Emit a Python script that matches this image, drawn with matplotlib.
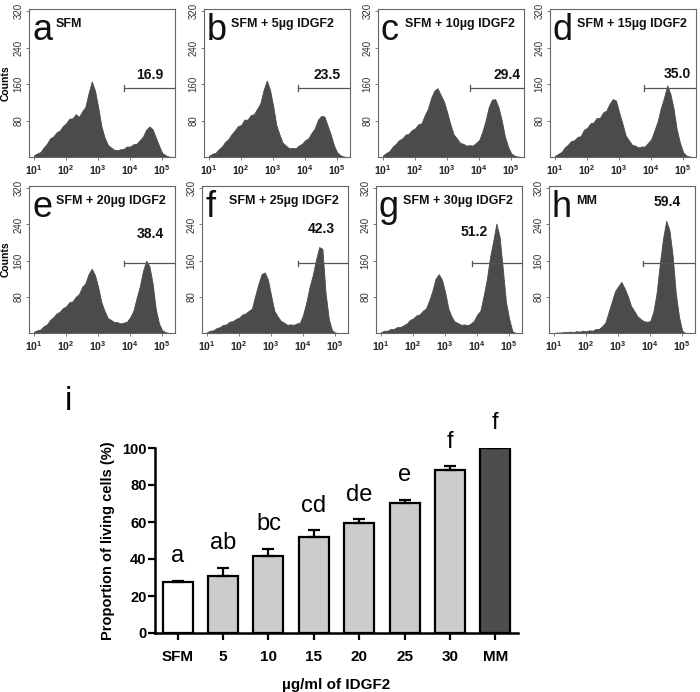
import matplotlib
matplotlib.use("Agg")
import matplotlib.pyplot as plt

plt.rcParams['font.family'] = ['Liberation Sans', 'DejaVu Sans']
plt.rcParams['mathtext.fontset'] = 'custom'
plt.rcParams['mathtext.rm'] = 'Liberation Sans'
plt.rcParams['mathtext.bf'] = 'Liberation Sans:bold'

# ---------------- data ----------------
# fluorescence bins (log10 of intensity)
bins_log = [1.0, 1.1, 1.2, 1.3, 1.4, 1.5, 1.6, 1.7, 1.8, 1.9,
            2.0, 2.1, 2.2, 2.3, 2.4, 2.5, 2.6, 2.7, 2.8, 2.9,
            3.0, 3.1, 3.2, 3.3, 3.4, 3.5, 3.6, 3.7, 3.8, 3.9,
            4.0, 4.1, 4.2, 4.3, 4.4, 4.5, 4.6, 4.7, 4.8, 4.9,
            5.0, 5.1, 5.2, 5.3]

counts_a = [4, 8, 11, 21, 29, 41, 45, 54, 58, 68, 74, 84, 85, 94, 88, 100, 110, 140, 166, 146,
            110, 68, 43, 27, 21, 16, 15, 17, 18, 23, 23, 28, 29, 37, 45, 60, 67, 61, 43, 25,
            9, 4, 1, 0]
counts_b = [3, 7, 9, 17, 23, 33, 39, 50, 58, 68, 70, 82, 82, 92, 94, 106, 118, 147, 168, 148,
            112, 70, 49, 31, 25, 19, 20, 19, 25, 29, 37, 41, 53, 63, 82, 90, 89, 69, 49, 25,
            10, 4, 1, 0]
counts_c = [4, 9, 13, 23, 29, 37, 41, 49, 51, 59, 63, 72, 74, 92, 106, 130, 146, 151, 136, 122,
            98, 72, 50, 41, 31, 29, 25, 26, 25, 31, 37, 56, 80, 110, 126, 127, 110, 82, 46, 23,
            8, 3, 1, 0]
counts_d = [3, 7, 11, 21, 27, 35, 37, 44, 46, 60, 64, 74, 76, 86, 86, 98, 102, 117, 127, 124,
            98, 74, 48, 37, 27, 25, 21, 23, 23, 31, 39, 58, 78, 107, 130, 157, 139, 106, 60, 31,
            10, 3, 1, 0]
counts_e = [3, 6, 8, 15, 19, 29, 35, 43, 47, 55, 59, 68, 70, 80, 86, 102, 110, 130, 142, 128,
            102, 68, 49, 33, 29, 24, 24, 21, 23, 25, 35, 49, 77, 103, 137, 160, 148, 110, 53, 21,
            6, 2, 0, 0]
counts_f = [2, 5, 6, 11, 13, 18, 19, 25, 26, 31, 34, 41, 43, 49, 54, 82, 108, 130, 134, 118,
            82, 49, 37, 27, 23, 18, 19, 18, 21, 23, 41, 68, 102, 128, 162, 190, 186, 88, 31, 6,
            1, 0, 0, 0]
counts_g = [2, 5, 5, 9, 9, 13, 13, 17, 21, 29, 32, 39, 41, 49, 54, 72, 93, 120, 130, 118,
            90, 54, 36, 25, 22, 18, 19, 17, 21, 27, 41, 49, 82, 118, 167, 203, 242, 213, 142, 68,
            31, 4, 0, 0]
counts_h = [0, 1, 1, 2, 2, 3, 2, 4, 3, 5, 4, 6, 5, 9, 9, 15, 23, 46, 69, 92,
            103, 113, 99, 82, 60, 49, 37, 31, 26, 25, 26, 47, 88, 152, 208, 248, 228, 172, 88, 36,
            5, 0, 0, 0]

panel_letters = ['a', 'b', 'c', 'd', 'e', 'f', 'g', 'h']
panel_titles = ['SFM', 'SFM + 5µg IDGF2', 'SFM + 10µg IDGF2', 'SFM + 15µg IDGF2',
                'SFM + 20µg IDGF2', 'SFM + 25µg IDGF2', 'SFM + 30µg IDGF2', 'MM']
gate_pct = ['16.9', '23.5', '29.4', '35.0', '38.4', '42.3', '51.2', '59.4']
gate_start = [3.81, 3.78, 3.72, 3.78, 3.81, 3.84, 3.84, 3.78]
gate_level = [152, 152, 152, 152, 154, 154, 154, 154]
pct_pos = [(4.60, 172), (4.68, 172), (4.87, 172), (4.81, 174),
           (4.62, 211), (4.56, 220), (3.90, 215), (4.53, 281)]
all_counts = [counts_a, counts_b, counts_c, counts_d, counts_e, counts_f, counts_g, counts_h]

bar_cats = ['SFM', '5', '10', '15', '20', '25', '30', 'MM']
bar_vals = [27.6, 30.8, 41.6, 51.9, 59.5, 70.3, 88.1, 100.0]
bar_errs = [0.6, 4.6, 4.0, 3.6, 2.0, 1.8, 2.0, 0.0]
bar_sig = ['a', 'ab', 'bc', 'cd', 'de', 'e', 'f', 'f']
bar_colors = ['white', '#cccccc', '#cccccc', '#cccccc', '#cccccc', '#cccccc', '#cccccc', '#4d4d4d']

# ---------------- figure ----------------
W, H = 700, 692
fig = plt.figure(figsize=(W / 100, H / 100), dpi=100)


def px_axes(left, top, w, h):
    return fig.add_axes([left / W, 1 - (top + h) / H, w / W, h / H])


HCOL = '#4b4b4b'
lefts_top = [29, 204, 378, 550]
lefts_bot = [29, 202, 376, 549]

for i in range(8):
    if i < 4:
        ax = px_axes(lefts_top[i], 9, 146, 148)
    else:
        ax = px_axes(lefts_bot[i - 4], 186, 146, 147)
    ax.fill_between(bins_log, all_counts[i], 0, color=HCOL, lw=0.6, edgecolor=HCOL)
    ax.set_xlim(0.84, 5.4)
    ax.set_ylim(0, 325)
    for s in ax.spines.values():
        s.set_color('#666666')
        s.set_linewidth(0.8)
    ax.set_yticks([80, 160, 240, 320])
    ax.set_yticklabels(['80', '160', '240', '320'], rotation=90, va='center',
                       fontsize=7, color='#333333')
    ax.set_xticks([1, 2, 3, 4, 5])
    ax.set_xticklabels([r'$\mathbf{10^{%d}}$' % k for k in [1, 2, 3, 4, 5]],
                       fontsize=7.5, color='#222222')
    ax.tick_params(axis='both', length=2.5, width=0.6, color='#666666', pad=2)
    ax.tick_params(axis='y', pad=1.5)
    # gate
    ax.plot([gate_start[i], 5.4], [gate_level[i], gate_level[i]], color='#555555', lw=0.9,
            clip_on=False)
    ax.plot([gate_start[i], gate_start[i]], [gate_level[i] - 6, gate_level[i] + 6],
            color='#555555', lw=0.9)
    ax.text(pct_pos[i][0], pct_pos[i][1], gate_pct[i], ha='center', va='baseline',
            fontsize=10, fontweight='bold', color='#111111')
    # letter and title
    ax.annotate(panel_letters[i], xy=(0, 1), xycoords='axes fraction',
                xytext=(3, -31), textcoords='offset pixels', fontsize=26,
                ha='left', va='baseline', color='#111111')
    ax.annotate(panel_titles[i], xy=(0, 1), xycoords='axes fraction',
                xytext=(27, -18), textcoords='offset pixels', fontsize=9,
                fontweight='bold', ha='left', va='baseline', color='#111111')
    if i in (0, 4):
        ax.set_ylabel('Counts', fontsize=7.5, fontweight='bold', labelpad=2)

# ---------------- bar chart ----------------
axb = px_axes(155, 448, 363, 185)
xs = list(range(len(bar_cats)))
axb.bar(xs, bar_vals, width=0.66, color=bar_colors, edgecolor='black', linewidth=1.6,
        yerr=[[0] * len(bar_errs), bar_errs],
        error_kw=dict(ecolor='black', elinewidth=1.6, capsize=4, capthick=1.6), zorder=2)
for x, v, e, s in zip(xs, bar_vals, bar_errs, bar_sig):
    axb.text(x, v + e + 10, s, ha='center', va='baseline', fontsize=17, clip_on=False)
axb.set_xlim(-0.5, 7.5)
axb.set_ylim(0, 100)
axb.set_yticks([0, 20, 40, 60, 80, 100])
axb.set_xticks(xs)
axb.set_xticklabels(bar_cats, fontsize=11, fontweight='bold')
for lab in axb.get_yticklabels():
    lab.set_fontsize(10.5)
    lab.set_fontweight('bold')
axb.spines['top'].set_visible(False)
axb.spines['right'].set_visible(False)
for s in ['left', 'bottom']:
    axb.spines[s].set_linewidth(1.8)
axb.tick_params(axis='both', length=5, width=1.6)
axb.tick_params(axis='y', pad=1)
axb.tick_params(axis='x', pad=7)
axb.set_ylabel('Proportion of living cells (%)', fontsize=10.5, fontweight='bold', labelpad=5)
axb.set_xlabel('µg/ml of IDGF2', fontsize=11, fontweight='bold', labelpad=10)

fig.text(65 / W, 1 - 410 / H, 'i', fontsize=24, ha='left', va='baseline')

fig.savefig('out.png', dpi=100)
